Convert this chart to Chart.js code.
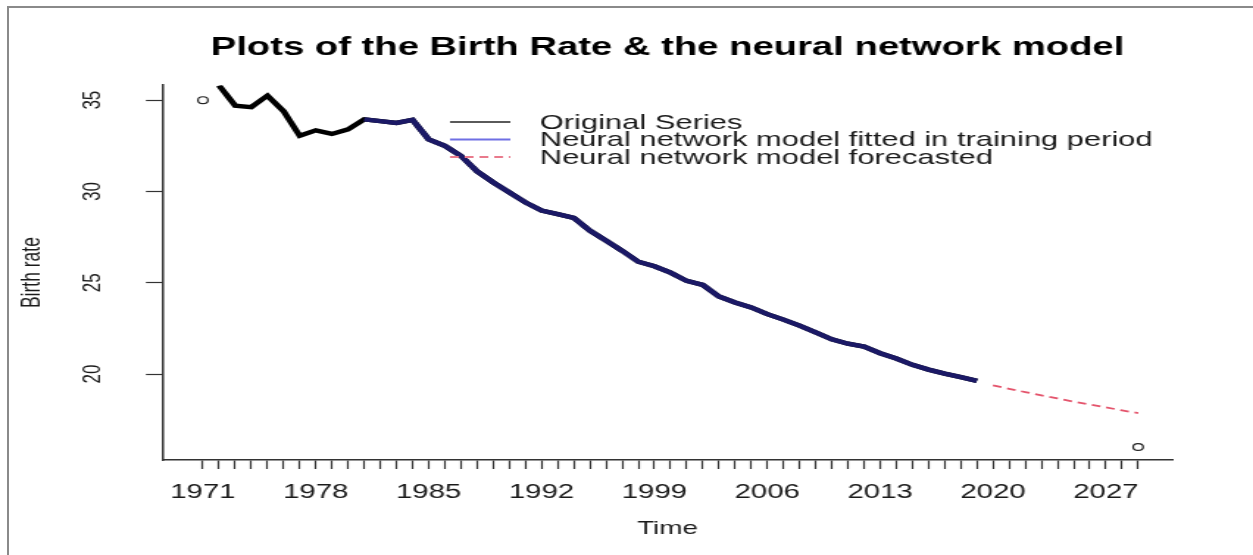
<!DOCTYPE html>
<html>
<head>
<meta charset="utf-8">
<script src="https://cdn.jsdelivr.net/npm/chart.js@4.4.1/dist/chart.umd.min.js"></script>
<style>
  html, body { margin: 0; padding: 0; background: #fff; }
  #wrap { position: relative; width: 1253px; height: 555px; overflow: hidden; }
  /* the original picture is stretched sideways, so the canvas is too */
  #c { position: absolute; left: 0; top: 0; width: 852px; height: 555px;
       transform: scaleX(1.4707); transform-origin: 0 0; }
  #frame { position: absolute; left: 7px; top: 6px; width: 1260px; height: 560px;
           border-left: 2px solid #8a8a8a; border-top: 2px solid #8a8a8a; }
</style>
</head>
<body>
<div id="wrap">
  <canvas id="c" width="852" height="555"></canvas>
  <div id="frame"></div>
</div>
<script>
// original series (birth rate per year)
var years = [1972, 1973, 1974, 1975, 1976, 1977, 1978, 1979, 1980, 1981, 1982, 1983,
  1984, 1985, 1986, 1987, 1988, 1989, 1990, 1991, 1992, 1993, 1994, 1995,
  1996, 1997, 1998, 1999, 2000, 2001, 2002, 2003, 2004, 2005, 2006, 2007,
  2008, 2009, 2010, 2011, 2012, 2013, 2014, 2015, 2016, 2017, 2018, 2019];
var birthRate = [35.80, 34.70, 34.62, 35.25, 34.40, 33.05, 33.35, 33.15, 33.40, 33.95, 33.85, 33.75,
  33.92, 32.85, 32.50, 31.95, 31.10, 30.50, 29.95, 29.40, 28.95, 28.76, 28.55, 27.85,
  27.30, 26.75, 26.15, 25.90, 25.55, 25.10, 24.88, 24.25, 23.92, 23.65, 23.28, 22.98,
  22.65, 22.28, 21.90, 21.66, 21.50, 21.14, 20.85, 20.50, 20.24, 20.02, 19.83, 19.62];

// neural network fit over the training period
var fittedYears = [1981, 1982, 1983, 1984, 1985, 1986, 1987, 1988, 1989, 1990, 1991, 1992,
  1993, 1994, 1995, 1996, 1997, 1998, 1999, 2000, 2001, 2002, 2003, 2004,
  2005, 2006, 2007, 2008, 2009, 2010, 2011, 2012, 2013, 2014, 2015, 2016,
  2017, 2018, 2019];
var fittedValues = [33.95, 33.85, 33.75, 33.92, 32.85, 32.50, 31.95, 31.10, 30.50, 29.95, 29.40, 28.95,
  28.76, 28.55, 27.85, 27.30, 26.75, 26.15, 25.90, 25.55, 25.10, 24.88, 24.25, 23.92,
  23.65, 23.28, 22.98, 22.65, 22.28, 21.90, 21.66, 21.50, 21.14, 20.85, 20.50, 20.24,
  20.02, 19.83, 19.62];

// forecast
var forecastYears = [2020, 2021, 2022, 2023, 2024, 2025, 2026, 2027, 2028, 2029];
var forecastValues = [19.38, 19.19, 19.01, 18.83, 18.66, 18.49, 18.33, 18.17, 18.01, 17.86];

// the two lone circles
var markerYears = [1971, 2029];
var markerValues = [35, 16];

// axes
var xTickYears = [];
for (var yr = 1971; yr <= 2029; yr++) xTickYears.push(yr);
var xLabelYears = [1971, 1978, 1985, 1992, 1999, 2006, 2013, 2020, 2027];
var yTicks = [20, 25, 30, 35];

var FONT = '"Liberation Sans", Arial, Helvetica, sans-serif';

function pairs(xs, ys) {
  return xs.map(function (x, i) { return { x: x, y: ys[i] }; });
}

var legendItems = [
  { text: 'Original Series', color: '#5a5a5a', dash: [] },
  { text: 'Neural network model fitted in training period', color: '#6f6fe4', dash: [] },
  { text: 'Neural network model forecasted', color: '#e97a8c', dash: [6, 4] }
];

// R style legend without box
var rLegend = {
  id: 'rLegend',
  afterDraw: function (chart) {
    var ctx = chart.ctx;
    ctx.save();
    ctx.font = '21px ' + FONT;
    ctx.textBaseline = 'middle';
    ctx.textAlign = 'left';
    legendItems.forEach(function (item, i) {
      var y = 122 + i * 17.5;
      ctx.beginPath();
      ctx.strokeStyle = item.color;
      ctx.lineWidth = 2;
      ctx.setLineDash(item.dash);
      ctx.moveTo(306, y);
      ctx.lineTo(347, y);
      ctx.stroke();
      ctx.setLineDash([]);
      ctx.fillStyle = '#1a1a1a';
      ctx.fillText(item.text, 367, y + 1);
    });
    ctx.restore();
  }
};

var chart = new Chart(document.getElementById('c'), {
  type: 'line',
  data: {
    datasets: [
      {
        label: 'Neural network model fitted in training period',
        data: pairs(fittedYears, fittedValues),
        borderColor: '#1b1966',
        borderWidth: 4.4,
        pointRadius: 0,
        tension: 0,
        order: 0
      },
      {
        label: 'Original Series',
        data: pairs(years, birthRate),
        borderColor: '#000000',
        borderWidth: 4.4,
        pointRadius: 0,
        tension: 0,
        order: 1
      },
      {
        label: 'Neural network model forecasted',
        data: pairs(forecastYears, forecastValues),
        borderColor: '#e4546c',
        borderWidth: 1.8,
        borderDash: [6, 4],
        pointRadius: 0,
        tension: 0,
        order: 2
      },
      {
        label: 'points',
        data: pairs(markerYears, markerValues),
        showLine: false,
        pointRadius: 3.4,
        pointBorderWidth: 1.2,
        pointBorderColor: '#222',
        pointBackgroundColor: 'rgba(0,0,0,0)',
        order: 3
      }
    ]
  },
  options: {
    responsive: false,
    devicePixelRatio: 1,
    animation: false,
    layout: { padding: { left: 0, right: 55, top: 0, bottom: 0 } },
    plugins: {
      legend: { display: false },
      tooltip: { enabled: false },
      title: {
        display: true,
        fullSize: false,
        text: 'Plots of the Birth Rate & the neural network model',
        color: '#000',
        font: { family: FONT, size: 26, weight: 'bold' },
        padding: { top: 32, bottom: 22 }
      }
    },
    scales: {
      x: {
        type: 'linear',
        min: 1968.52,
        max: 2031.11,
        afterFit: function (s) { s.height = 95; },
        afterBuildTicks: function (s) {
          s.ticks = xTickYears.map(function (v) { return { value: v }; });
        },
        ticks: {
          autoSkip: false,
          minRotation: 0,
          maxRotation: 0,
          padding: 11,
          color: '#1a1a1a',
          font: { family: FONT, size: 20 },
          callback: function (v) { return xLabelYears.indexOf(v) >= 0 ? String(v) : ''; }
        },
        grid: {
          drawOnChartArea: false,
          drawTicks: true,
          tickLength: 9,
          tickWidth: 1.2,
          tickColor: '#333'
        },
        border: { display: true, color: '#333', width: 1.5 },
        title: {
          display: true,
          text: 'Time',
          color: '#1a1a1a',
          font: { family: FONT, size: 19 },
          padding: { top: 0, bottom: 15 }
        }
      },
      y: {
        type: 'linear',
        min: 15.29,
        max: 35.82,
        afterFit: function (s) { s.width = 110.8; },
        afterBuildTicks: function (s) {
          s.ticks = yTicks.map(function (v) { return { value: v }; });
        },
        ticks: {
          minRotation: 90,
          maxRotation: 90,
          crossAlign: 'center',
          padding: 26.5,
          color: '#1a1a1a',
          font: { family: FONT, size: 17 }
        },
        grid: {
          drawOnChartArea: false,
          drawTicks: true,
          tickLength: 11.6,
          tickWidth: 1.2,
          tickColor: '#333'
        },
        border: { display: true, color: '#333', width: 1.5 },
        title: {
          display: true,
          text: 'Birth rate',
          color: '#1a1a1a',
          font: { family: FONT, size: 17.5 },
          padding: { top: 11.5, bottom: 0 }
        }
      }
    }
  },
  plugins: [rLegend]
});
</script>
</body>
</html>
